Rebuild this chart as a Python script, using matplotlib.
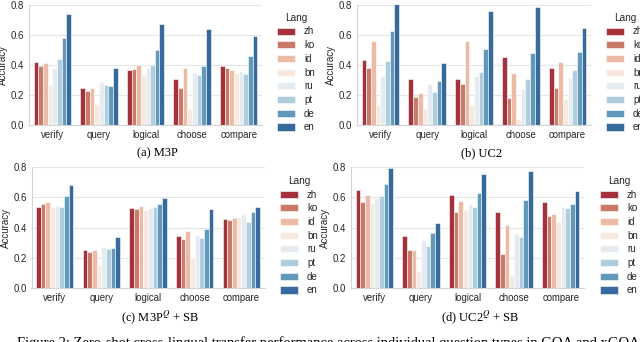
import numpy as np
import matplotlib.pyplot as plt
import seaborn as sns

plt.rcParams['font.family'] = ['Liberation Sans', 'DejaVu Sans']
plt.rcParams['mathtext.fontset'] = 'stix'

categories = ["verify", "query", "logical", "choose", "compare"]
langs = ["zh", "ko", "id", "bn", "ru", "pt", "de", "en"]

# rows = langs, cols = categories
m3p = [
    [0.418, 0.245, 0.368, 0.306, 0.396],
    [0.392, 0.227, 0.374, 0.249, 0.381],
    [0.414, 0.249, 0.401, 0.381, 0.368],
    [0.267, 0.143, 0.333, 0.108, 0.346],
    [0.381, 0.286, 0.379, 0.344, 0.361],
    [0.438, 0.267, 0.401, 0.333, 0.341],
    [0.579, 0.258, 0.500, 0.392, 0.463],
    [0.736, 0.377, 0.672, 0.637, 0.595],
]
uc2 = [
    [0.434, 0.304, 0.306, 0.452, 0.381],
    [0.379, 0.187, 0.273, 0.178, 0.249],
    [0.557, 0.211, 0.557, 0.348, 0.423],
    [0.134, 0.108, 0.134, 0.044, 0.176],
    [0.326, 0.273, 0.330, 0.240, 0.313],
    [0.425, 0.220, 0.352, 0.306, 0.366],
    [0.628, 0.297, 0.504, 0.480, 0.487],
    [0.805, 0.416, 0.755, 0.786, 0.645],
]
m3p_sb = [
    [0.538, 0.251, 0.527, 0.343, 0.457],
    [0.558, 0.237, 0.525, 0.327, 0.453],
    [0.571, 0.253, 0.545, 0.378, 0.464],
    [0.536, 0.154, 0.519, 0.198, 0.470],
    [0.543, 0.273, 0.532, 0.352, 0.488],
    [0.538, 0.259, 0.534, 0.332, 0.440],
    [0.611, 0.268, 0.554, 0.389, 0.503],
    [0.679, 0.338, 0.598, 0.521, 0.538],
]
uc2_sb = [
    [0.646, 0.345, 0.615, 0.505, 0.569],
    [0.571, 0.255, 0.505, 0.224, 0.477],
    [0.615, 0.250, 0.578, 0.418, 0.492],
    [0.565, 0.116, 0.516, 0.081, 0.440],
    [0.598, 0.316, 0.554, 0.358, 0.538],
    [0.611, 0.280, 0.538, 0.336, 0.527],
    [0.690, 0.363, 0.629, 0.582, 0.554],
    [0.795, 0.429, 0.752, 0.776, 0.640],
]

captions = ["(a) M3P", "(b) UC2", "(c) M3P$^{Q}$ + SB", "(d) UC2$^{Q}$ + SB"]

W, H = 640, 342
fig = plt.figure(figsize=(W / 100, H / 100), dpi=100)

colors = [sns.desaturate(c, 0.75) for c in sns.color_palette("RdBu", 8)]
txt = '#262626'

# (left, right, top, bottom) in px, legend anchor, caption position
layout = [
    (m3p, (29, 262, 4.7, 125.3), (270, 6), (157, 153)),
    (uc2, (357, 591, 4.7, 125.3), (599, 6), (482, 153)),
    (m3p_sb, (31.5, 264.5, 167, 288.3), (273, 169), (160, 317)),
    (uc2_sb, (351, 584, 167, 288.3), (593, 169), (480, 317)),
]

x = np.arange(len(categories))
bw = 0.8 / len(langs)
for (data, (l, r, t, b), (lx, ly), (cx, cy)), cap in zip(layout, captions):
    ax = fig.add_axes([l / W, 1 - b / H, (r - l) / W, (b - t) / H])
    for i, lang in enumerate(langs):
        ax.bar(x - 0.4 + bw * (i + 0.5), data[i], bw, color=colors[i],
               edgecolor='white', linewidth=0.4, label=lang, zorder=2)
    ax.set_xlim(-0.5, 4.5)
    ax.set_ylim(0, 0.8)
    ax.set_yticks([0, 0.2, 0.4, 0.6, 0.8])
    ax.set_yticklabels(["0.0", "0.2", "0.4", "0.6", "0.8"])
    ax.set_xticks(x)
    ax.set_xticklabels(categories)
    ax.tick_params(length=0, labelsize=6.9, colors=txt, pad=3.5)
    ax.set_ylabel("Accuracy", fontsize=7, color=txt, labelpad=2)
    ax.yaxis.grid(True, color='#e5e5e5', linewidth=0.8, zorder=0)
    ax.set_axisbelow(True)
    for s in ['top', 'right']:
        ax.spines[s].set_visible(False)
    for s in ['left', 'bottom']:
        ax.spines[s].set_color('#d4d4d4')
        ax.spines[s].set_linewidth(0.8)
    leg = ax.legend(title="Lang", loc='upper left',
                    bbox_to_anchor=(lx / W, 1 - ly / H),
                    bbox_transform=fig.transFigure, frameon=False,
                    fontsize=7, title_fontsize=7.2, handlelength=1.9,
                    handleheight=0.75, labelspacing=0.38, handletextpad=0.9,
                    borderpad=0.2)
    for tx in leg.get_texts():
        tx.set_color(txt)
    leg.get_title().set_color(txt)
    fig.text(cx / W, 1 - cy / H, cap, ha='center', va='center',
             fontsize=9, family='Liberation Serif')

fig.text(17 / W, 1 - 336 / H,
         "Figure 2: Zero-shot cross-lingual transfer performance across individual question types in GQA and xGQA",
         ha='left', va='top', fontsize=10.5, family='Liberation Serif')

fig.savefig("out.png", dpi=100)
